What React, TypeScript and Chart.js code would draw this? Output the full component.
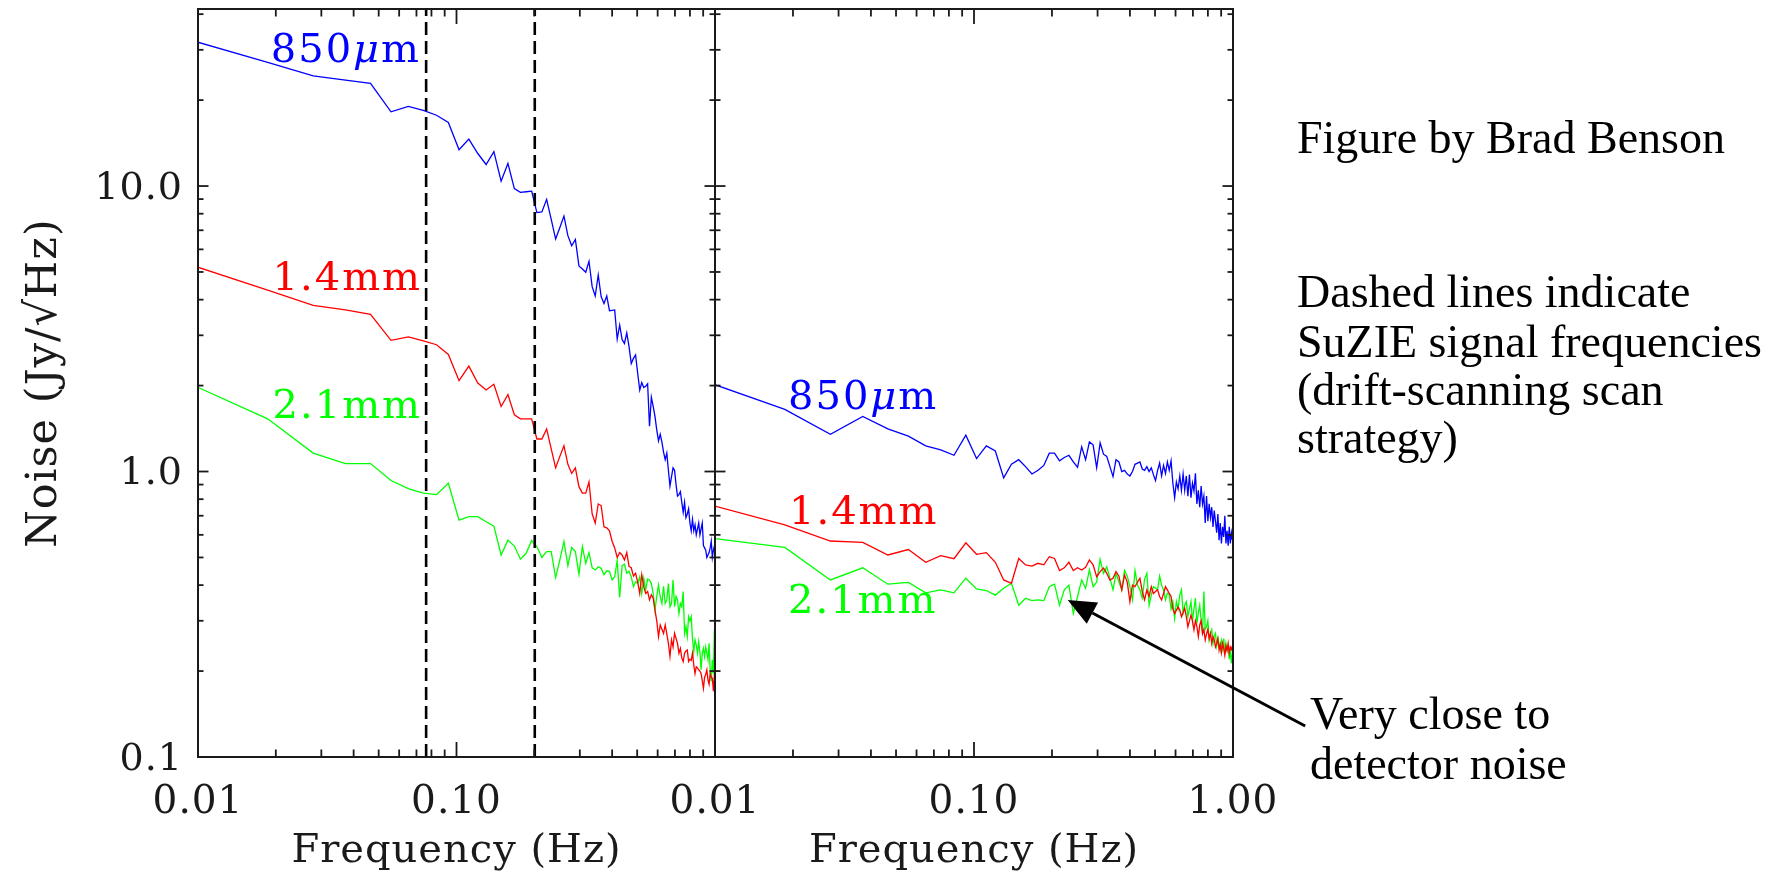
import React, { useEffect, useRef } from "react";
import { Chart, registerables } from "chart.js";

Chart.register(...registerables);

// ---------- data ----------
const FREQ = [
  0.0093, 0.0186, 0.0279, 0.0372, 0.0465, 0.0558, 0.0651, 0.0744, 0.0837, 0.093,
  0.1023, 0.1116, 0.1209, 0.1302, 0.1395, 0.1488, 0.1581, 0.1674, 0.1767, 0.186,
  0.1953, 0.2046, 0.2139, 0.2232, 0.2325, 0.2418, 0.2511, 0.2604, 0.2697, 0.279,
  0.2883, 0.2976, 0.3069, 0.3162, 0.3255, 0.3348, 0.3441, 0.3534, 0.3627, 0.372,
  0.3813, 0.3906, 0.3999, 0.4092, 0.4185, 0.4278, 0.4371, 0.4464, 0.4557, 0.465,
  0.4743, 0.4836, 0.4929, 0.5022, 0.5115, 0.5208, 0.5301, 0.5394, 0.5487, 0.558,
  0.5673, 0.5766, 0.5859, 0.5952, 0.6045, 0.6138, 0.6231, 0.6324, 0.6417, 0.651,
  0.6603, 0.6696, 0.6789, 0.6882, 0.6975, 0.7068, 0.7161, 0.7254, 0.7347, 0.744,
  0.7533, 0.7626, 0.7719, 0.7812, 0.7905, 0.7998, 0.8091, 0.8184, 0.8277, 0.837,
  0.8463, 0.8556, 0.8649, 0.8742, 0.8835, 0.8928, 0.9021, 0.9114, 0.9207, 0.93,
  0.9393, 0.9486, 0.9579, 0.9672, 0.9765, 0.9858, 0.9951,
];

const BLUE_LEFT = [
  32.5, 27.1, 24.3, 23.5, 22.9, 18.2, 19.0, 18.4, 17.7, 16.7,
  13.4, 14.6, 13.0, 11.9, 13.2, 10.4, 12.0, 9.8, 9.5, 9.55,
  9.6, 8.07, 8.11, 8.98, 7.64, 6.52, 7.16, 7.85, 6.7, 6.18,
  6.5, 5.25, 5.12, 4.99, 5.45, 4.44, 4.12, 4.88, 4.1, 3.88,
  4.12, 3.66, 3.67, 3.68, 2.91, 3.26, 2.9, 2.81, 3.06, 2.74,
  2.39, 2.49, 2.56, 2.21, 1.93, 2.05, 1.97, 1.99, 2.03, 1.44,
  1.82, 1.69, 1.56, 1.4, 1.28, 1.35, 1.27, 1.17, 1.1, 1.16,
  1.01, 0.89, 0.96, 1.03, 1.01, 0.9, 0.82, 0.83, 0.85, 0.78,
  0.72, 0.78, 0.69, 0.71, 0.74, 0.66, 0.62, 0.68, 0.62, 0.65,
  0.6, 0.63, 0.66, 0.6, 0.63, 0.66, 0.55, 0.54, 0.53, 0.5,
  0.51, 0.52, 0.54, 0.57, 0.5, 0.53, 0.55,
];

const RED_LEFT = [
  5.31, 4.32, 3.82, 3.68, 3.55, 2.88, 2.96, 2.87, 2.78, 2.57,
  2.08, 2.34, 2.04, 1.93, 2.02, 1.69, 1.86, 1.58, 1.53, 1.53,
  1.53, 1.3, 1.3, 1.41, 1.2, 1.03, 1.13, 1.23, 1.06, 0.985,
  1.03, 0.885, 0.84, 0.84, 0.92, 0.71, 0.66, 0.77, 0.76, 0.64,
  0.635, 0.62, 0.57, 0.54, 0.5, 0.52, 0.51, 0.49, 0.52, 0.465,
  0.46, 0.43, 0.44, 0.41, 0.374, 0.435, 0.395, 0.374, 0.38, 0.355,
  0.37, 0.36, 0.327, 0.3, 0.264, 0.29, 0.28, 0.271, 0.29, 0.27,
  0.25, 0.225, 0.257, 0.243, 0.271, 0.26, 0.25, 0.231, 0.24, 0.222,
  0.216, 0.231, 0.235, 0.237, 0.216, 0.22, 0.218, 0.231, 0.21, 0.196,
  0.207, 0.205, 0.202, 0.2, 0.196, 0.185, 0.174, 0.19, 0.195, 0.202,
  0.186, 0.18, 0.196, 0.19, 0.189, 0.17, 0.196,
];

const GREEN_LEFT = [
  2.03, 1.53, 1.16, 1.066, 1.066, 0.93, 0.871, 0.84, 0.83, 0.91,
  0.676, 0.695, 0.695, 0.667, 0.644, 0.51, 0.575, 0.548, 0.493, 0.517,
  0.573, 0.546, 0.5, 0.524, 0.524, 0.425, 0.49, 0.568, 0.468, 0.542,
  0.524, 0.436, 0.546, 0.477, 0.52, 0.46, 0.452, 0.464, 0.458, 0.435,
  0.449, 0.447, 0.417, 0.428, 0.488, 0.362, 0.467, 0.474, 0.44, 0.447,
  0.428, 0.395, 0.411, 0.405, 0.428, 0.374, 0.423, 0.385, 0.42, 0.417,
  0.405, 0.374, 0.327, 0.365, 0.4, 0.365, 0.345, 0.396, 0.345, 0.355,
  0.405, 0.336, 0.345, 0.417, 0.336, 0.365, 0.355, 0.318, 0.345, 0.336,
  0.38, 0.271, 0.286, 0.264, 0.31, 0.3, 0.31, 0.26, 0.234, 0.257,
  0.247, 0.231, 0.253, 0.234, 0.202, 0.231, 0.24, 0.225, 0.243, 0.231,
  0.219, 0.25, 0.202, 0.184, 0.219, 0.196, 0.28,
];

const BLUE_RIGHT = [
  2.06, 1.65, 1.35, 1.56, 1.41, 1.33, 1.23, 1.19, 1.14, 1.34,
  1.11, 1.23, 1.18, 0.95, 1.06, 1.1, 1.04, 0.98, 1.01, 1.05,
  1.16, 1.16, 1.09, 1.12, 1.14, 1.08, 1.035, 1.22, 1.1, 1.27,
  1.24, 1.03, 1.26, 1.15, 1.13, 1.04, 0.96, 1.1, 1.08, 1.0,
  1.01, 0.98, 0.965, 1.0, 1.06, 1.07, 1.08, 1.02, 1.01, 1.04,
  1.0, 1.03, 0.975, 0.93, 1.01, 1.07, 0.965, 1.05, 0.985, 1.08,
  1.01, 1.09, 0.91, 0.81, 0.92, 0.87, 0.965, 0.86, 0.98, 0.86,
  0.965, 0.82, 0.975, 0.81, 0.91, 0.855, 0.985, 0.77, 0.86, 0.75,
  0.89, 0.77, 0.82, 0.66, 0.82, 0.67, 0.77, 0.69, 0.75, 0.64,
  0.73, 0.67, 0.61, 0.71, 0.575, 0.66, 0.56, 0.64, 0.59, 0.7,
  0.56, 0.62, 0.55, 0.64, 0.56, 0.61, 0.575,
];

const RED_RIGHT = [
  0.77, 0.65, 0.571, 0.565, 0.51, 0.533, 0.481, 0.507, 0.495, 0.563,
  0.513, 0.52, 0.481, 0.417, 0.406, 0.496, 0.471, 0.466, 0.477, 0.471,
  0.503, 0.496, 0.45, 0.46, 0.481, 0.45, 0.46, 0.452, 0.462, 0.49,
  0.471, 0.428, 0.446, 0.459, 0.44, 0.417, 0.423, 0.446, 0.43, 0.385,
  0.434, 0.41, 0.35, 0.4, 0.395, 0.41, 0.423, 0.38, 0.355, 0.385,
  0.365, 0.395, 0.374, 0.38, 0.385, 0.365, 0.355, 0.374, 0.395, 0.385,
  0.374, 0.365, 0.33, 0.318, 0.327, 0.335, 0.327, 0.31, 0.32, 0.332,
  0.31, 0.286, 0.3, 0.314, 0.3, 0.279, 0.3, 0.286, 0.264, 0.29,
  0.3, 0.27, 0.28, 0.257, 0.27, 0.28, 0.26, 0.271, 0.25, 0.264,
  0.257, 0.243, 0.25, 0.26, 0.237, 0.248, 0.232, 0.25, 0.24, 0.227,
  0.245, 0.236, 0.25, 0.232, 0.243, 0.238, 0.245,
];

const GREEN_RIGHT = [
  0.587, 0.542, 0.417, 0.46, 0.403, 0.409, 0.376, 0.385, 0.376, 0.423,
  0.388, 0.383, 0.369, 0.39, 0.406, 0.34, 0.36, 0.353, 0.355, 0.353,
  0.395, 0.403, 0.34, 0.385, 0.4, 0.318, 0.365, 0.417, 0.39, 0.452,
  0.395, 0.41, 0.492, 0.44, 0.464, 0.423, 0.385, 0.44, 0.41, 0.385,
  0.45, 0.43, 0.395, 0.355, 0.45, 0.4, 0.385, 0.36, 0.42, 0.44,
  0.34, 0.37, 0.395, 0.39, 0.385, 0.43, 0.4, 0.385, 0.355, 0.375,
  0.37, 0.33, 0.35, 0.306, 0.35, 0.33, 0.37, 0.385, 0.32, 0.34,
  0.35, 0.31, 0.33, 0.35, 0.3, 0.33, 0.36, 0.294, 0.32, 0.34,
  0.3, 0.27, 0.38, 0.28, 0.286, 0.3, 0.257, 0.27, 0.279, 0.25,
  0.265, 0.271, 0.245, 0.26, 0.25, 0.237, 0.255, 0.24, 0.26, 0.23,
  0.25, 0.237, 0.245, 0.22, 0.24, 0.213, 0.23,
];

const SERIES_NAMES = ["850μm", "1.4mm", "2.1mm"];
const SERIES_COLORS = ["#0000ff", "#ff0000", "#00ff00"];
const SIGNAL_FREQS = [0.0763, 0.2008];

const X_MIN = 0.01;
const X_MAX = 1.0;
const Y_MIN = 0.1;
const Y_MAX = 41.7;

const X_MAJOR = [0.01, 0.1, 1];
const X_LABELS = ["0.01", "0.10", "1.00"];
const X_MINOR = [0.02, 0.03, 0.04, 0.05, 0.06, 0.07, 0.08, 0.09, 0.2, 0.3, 0.4, 0.5, 0.6, 0.7, 0.8, 0.9];
const Y_MAJOR = [0.1, 1, 10];
const Y_LABELS = ["0.1", "1.0", "10.0"];
const Y_MINOR = [0.2, 0.3, 0.4, 0.5, 0.6, 0.7, 0.8, 0.9, 2, 3, 4, 5, 6, 7, 8, 9, 20, 30, 40];

const X_TITLE = "Frequency (Hz)";
const Y_TITLE = "Noise (Jy/√Hz)";

const CREDIT = "Figure by Brad Benson";
const DASH_NOTE = ["Dashed lines indicate", "SuZIE signal frequencies", "(drift-scanning scan", "strategy)"];
const ARROW_NOTE = ["Very close to", "detector noise"];
const ARROW_TIP = { x: 0.23, y: 0.355 };
const ARROW_TAIL = { x: 1.9, y: 0.1284 };

// ---------- layout ----------
const W = 1775;
const H = 877;
const PLOT_TOP = 9;
const PLOT_BOTTOM = 757;
const LEFT_X0 = 198;
const MID_X = 715;
const RIGHT_X1 = 1233;

const HERSHEY = '"DejaVu Serif", serif';
const BOOK = '"Liberation Serif", serif';
const AXIS_COLOR = "#1a1a1a";

function setSpacing(ctx: CanvasRenderingContext2D, px: number) {
  try {
    (ctx as any).letterSpacing = `${px}px`;
  } catch (e) {
    /* ignore */
  }
}

function drawSeriesLabel(ctx: CanvasRenderingContext2D, text: string, color: string, x: number, y: number, align: "left" | "right") {
  ctx.save();
  ctx.fillStyle = color;
  ctx.textBaseline = "alphabetic";
  ctx.textAlign = "left";
  const size = 40;
  setSpacing(ctx, 2);
  const parts = text.split(/(μ)/).filter(Boolean).map((t) => ({
    t,
    font: (t === "μ" ? "italic " : "") + `${size}px ${HERSHEY}`,
  }));
  let total = 0;
  for (const p of parts) {
    ctx.font = p.font;
    total += ctx.measureText(p.t).width;
  }
  let cx = align === "right" ? x - total : x;
  for (const p of parts) {
    ctx.font = p.font;
    ctx.fillText(p.t, cx, y);
    cx += ctx.measureText(p.t).width;
  }
  ctx.restore();
}

function makeFramePlugin() {
  return {
    id: "frameTicks",
    beforeDraw(chart: any) {
      setSpacing(chart.ctx, 1);
    },
    afterDatasetsDraw(chart: any) {
      const { ctx, chartArea, scales } = chart;
      const { left, right, top, bottom } = chartArea;
      const xs = scales.x;
      const ys = scales.y;
      ctx.save();
      ctx.strokeStyle = AXIS_COLOR;
      ctx.lineWidth = 2;
      ctx.strokeRect(left, top, right - left, bottom - top);
      ctx.lineWidth = 1.8;
      const seg = (x1: number, y1: number, x2: number, y2: number) => {
        ctx.beginPath();
        ctx.moveTo(x1, y1);
        ctx.lineTo(x2, y2);
        ctx.stroke();
      };
      const xTick = (v: number, len: number) => {
        const px = xs.getPixelForValue(v);
        seg(px, bottom, px, bottom - len);
        seg(px, top, px, top + len);
      };
      const yTick = (v: number, len: number) => {
        const py = ys.getPixelForValue(v);
        seg(left, py, left + len, py);
        seg(right, py, right - len, py);
      };
      X_MAJOR.forEach((v) => xTick(v, 15));
      X_MINOR.forEach((v) => xTick(v, 7.5));
      Y_MAJOR.forEach((v) => yTick(v, 10.5));
      Y_MINOR.forEach((v) => yTick(v, 5.5));
      ctx.restore();
    },
  };
}

function makeNotesPlugin(isLeft: boolean) {
  return {
    id: "notes",
    afterDraw(chart: any) {
      const ctx: CanvasRenderingContext2D = chart.ctx;
      if (isLeft) {
        drawSeriesLabel(ctx, SERIES_NAMES[0], SERIES_COLORS[0], 421, 62, "right");
        drawSeriesLabel(ctx, SERIES_NAMES[1], SERIES_COLORS[1], 422, 290, "right");
        drawSeriesLabel(ctx, SERIES_NAMES[2], SERIES_COLORS[2], 422, 418, "right");
        return;
      }
      drawSeriesLabel(ctx, SERIES_NAMES[0], SERIES_COLORS[0], 788, 409, "left");
      drawSeriesLabel(ctx, SERIES_NAMES[1], SERIES_COLORS[1], 789, 524, "left");
      drawSeriesLabel(ctx, SERIES_NAMES[2], SERIES_COLORS[2], 788, 613, "left");

      ctx.save();
      setSpacing(ctx, 0);
      ctx.fillStyle = "#000";
      ctx.textAlign = "left";
      ctx.textBaseline = "alphabetic";
      ctx.font = `46px ${BOOK}`;
      ctx.fillText(CREDIT, 1297, 153);
      const dashBase = [307, 357, 405, 453];
      DASH_NOTE.forEach((t, i) => ctx.fillText(t, 1297, dashBase[i]));
      const arrowBase = [729, 779];
      ARROW_NOTE.forEach((t, i) => ctx.fillText(t, 1310, arrowBase[i]));

      // arrow
      const xs = chart.scales.x;
      const ys = chart.scales.y;
      const tx = xs.getPixelForValue(ARROW_TIP.x);
      const ty = ys.getPixelForValue(ARROW_TIP.y);
      const sx = xs.getPixelForValue(ARROW_TAIL.x);
      const sy = ys.getPixelForValue(ARROW_TAIL.y);
      const ang = Math.atan2(ty - sy, tx - sx);
      const headLen = 28;
      const headHalf = 12;
      const bx = tx - headLen * Math.cos(ang);
      const by = ty - headLen * Math.sin(ang);
      ctx.strokeStyle = "#000";
      ctx.lineWidth = 3;
      ctx.beginPath();
      ctx.moveTo(sx, sy);
      ctx.lineTo(bx, by);
      ctx.stroke();
      ctx.beginPath();
      ctx.moveTo(tx, ty);
      ctx.lineTo(bx + headHalf * Math.sin(ang), by - headHalf * Math.cos(ang));
      ctx.lineTo(bx - headHalf * Math.sin(ang), by + headHalf * Math.cos(ang));
      ctx.closePath();
      ctx.fillStyle = "#000";
      ctx.fill();
      ctx.restore();
    },
  };
}

function zeroPadding(s: any) {
  s.paddingTop = 0;
  s.paddingBottom = 0;
  s.paddingLeft = 0;
  s.paddingRight = 0;
}

function makeConfig(isLeft: boolean): any {
  const series = isLeft ? [BLUE_LEFT, RED_LEFT, GREEN_LEFT] : [BLUE_RIGHT, RED_RIGHT, GREEN_RIGHT];
  const datasets: any[] = series.map((arr, i) => ({
    label: SERIES_NAMES[i],
    data: FREQ.map((f, j) => ({ x: f, y: arr[j] })),
    borderColor: SERIES_COLORS[i],
    backgroundColor: SERIES_COLORS[i],
    borderWidth: 1.3,
    pointRadius: 0,
    tension: 0,
    fill: false,
    clip: 0,
  }));
  if (isLeft) {
    SIGNAL_FREQS.forEach((f) =>
      datasets.unshift({
        label: "signal",
        data: [
          { x: f, y: Y_MIN },
          { x: f, y: Y_MAX },
        ],
        borderColor: "#000",
        borderWidth: 2.6,
        borderDash: [13, 6],
        pointRadius: 0,
        fill: false,
        clip: 0,
      })
    );
  }
  const xTickVals = isLeft ? [0.01, 0.1] : X_MAJOR;
  return {
    type: "line",
    data: { datasets },
    options: {
      responsive: false,
      animation: false,
      devicePixelRatio: 1,
      events: [],
      layout: {
        padding: {
          left: 0,
          top: PLOT_TOP,
          bottom: 0,
          right: W - (isLeft ? MID_X : RIGHT_X1),
        },
      },
      plugins: { legend: { display: false }, tooltip: { enabled: false } },
      scales: {
        x: {
          type: "logarithmic",
          position: "bottom",
          min: X_MIN,
          max: X_MAX,
          afterFit: (s: any) => {
            s.height = H - PLOT_BOTTOM;
            zeroPadding(s);
          },
          afterBuildTicks: (s: any) => {
            s.ticks = xTickVals.map((v) => ({ value: v }));
          },
          ticks: {
            autoSkip: false,
            maxRotation: 0,
            minRotation: 0,
            padding: 22,
            color: AXIS_COLOR,
            font: { family: HERSHEY, size: 39 },
            callback: (v: number) => X_LABELS[X_MAJOR.indexOf(v)] ?? "",
          },
          grid: { display: false, drawTicks: false },
          border: { display: false },
          title: {
            display: true,
            text: X_TITLE,
            color: AXIS_COLOR,
            font: { family: HERSHEY, size: 40 },
            padding: { top: 0, bottom: 1 },
          },
        },
        y: {
          type: "logarithmic",
          position: "left",
          min: Y_MIN,
          max: Y_MAX,
          afterFit: (s: any) => {
            s.width = isLeft ? LEFT_X0 : MID_X;
            zeroPadding(s);
          },
          afterBuildTicks: (s: any) => {
            s.ticks = Y_MAJOR.map((v) => ({ value: v }));
          },
          ticks: {
            display: isLeft,
            autoSkip: false,
            padding: 15,
            labelOffset: 3,
            color: AXIS_COLOR,
            font: { family: HERSHEY, size: 38 },
            callback: (v: number) => Y_LABELS[Y_MAJOR.indexOf(v)] ?? "",
          },
          grid: { display: false, drawTicks: false },
          border: { display: false },
          title: {
            display: isLeft,
            text: Y_TITLE,
            color: AXIS_COLOR,
            font: { family: HERSHEY, size: 43 },
            padding: { top: 19, bottom: 0 },
          },
        },
      },
    },
    plugins: [makeFramePlugin(), makeNotesPlugin(isLeft)],
  };
}

export default function App() {
  const leftRef = useRef<HTMLCanvasElement>(null);
  const rightRef = useRef<HTMLCanvasElement>(null);

  useEffect(() => {
    const c1 = new Chart(leftRef.current as HTMLCanvasElement, makeConfig(true));
    const c2 = new Chart(rightRef.current as HTMLCanvasElement, makeConfig(false));
    return () => {
      c1.destroy();
      c2.destroy();
    };
  }, []);

  return (
    <div style={{ position: "absolute", left: 0, top: 0, width: W, height: H, background: "#fff", overflow: "hidden" }}>
      <canvas ref={leftRef} width={W} height={H} style={{ position: "absolute", left: 0, top: 0 }} />
      <canvas ref={rightRef} width={W} height={H} style={{ position: "absolute", left: 0, top: 0 }} />
    </div>
  );
}
